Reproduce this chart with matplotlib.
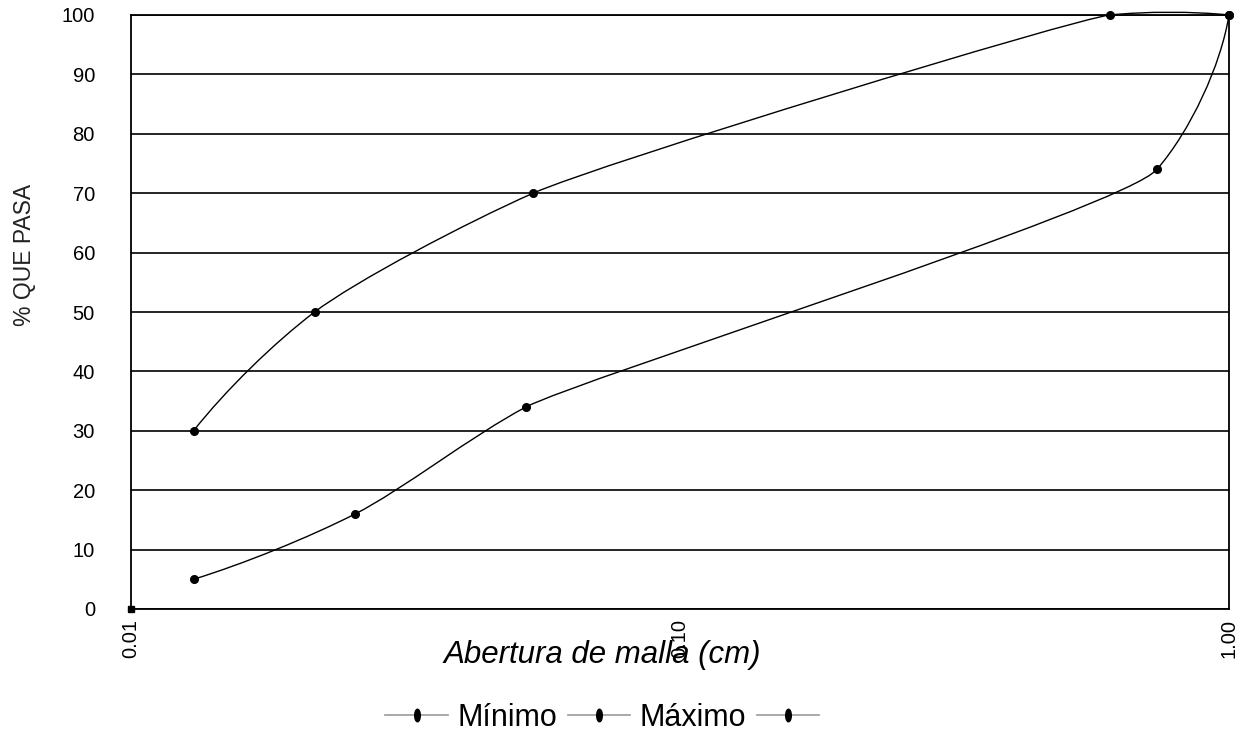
"""
Curva granulométrica: % que pasa vs abertura de malla (escala log).
Límites mínimo / máximo dibujados con suavizado tipo Excel.
"""

import numpy as np
import matplotlib
matplotlib.use("Agg")
import matplotlib.pyplot as plt
from matplotlib.path import Path
from matplotlib.patches import PathPatch
from matplotlib.lines import Line2D
from matplotlib.transforms import Affine2D

plt.rcParams["font.family"] = ["Liberation Sans", "DejaVu Sans"]

# datos
min_x = [0.013, 0.0216, 0.054, 0.607, 1.00]
min_y = [30, 50, 70, 100, 100]
max_x = [0.013, 0.0256, 0.0524, 0.739, 1.00]
max_y = [5, 16, 34, 74, 100]
extra_x = [0.01]
extra_y = [0]
labels = ["Mínimo", "Máximo", ""]
yticks = [0, 10, 20, 30, 40, 50, 60, 70, 80, 90, 100]
xticks = [0.01, 0.1, 1.0]
xticklabels = ["0.01", "0.10", "1.00"]

SX, SY = 549.0, 5.94     # px per decade / px per unit, smoothing done in screen space
TENSION = 0.3
WPOW = 0.4               # tangent leans toward the shorter neighbouring segment


def unit(d):
    return d / np.hypot(*d)


def smooth_path(xs, ys):
    """Smoothed line through the points: cubic Bezier, tangent handles bounded
    by the shorter neighbouring segment, end tangents reflected about the end chord."""
    p = np.column_stack([np.log10(xs) * SX, np.asarray(ys, float) * SY])
    n = len(p)
    seg = [p[i + 1] - p[i] for i in range(n - 1)]
    L = [np.hypot(*s) for s in seg]
    tan = [None] * n
    for i in range(1, n - 1):
        tan[i] = unit(unit(seg[i - 1]) * L[i] ** WPOW + unit(seg[i]) * L[i - 1] ** WPOW)
    c = unit(seg[0])
    tan[0] = 2 * np.dot(c, tan[1]) * c - tan[1] if n > 2 else c
    c = unit(seg[-1])
    tan[-1] = 2 * np.dot(c, tan[-2]) * c - tan[-2] if n > 2 else c

    def handle(i, j):
        # handle length at point i for segment j
        other = [k for k in (i - 1, i) if 0 <= k < n - 1 and k != j]
        ref = min([L[j]] + [L[k] for k in other])
        return ref * TENSION

    verts = [p[0]]
    codes = [Path.MOVETO]
    for i in range(n - 1):
        verts += [p[i] + tan[i] * handle(i, i),
                  p[i + 1] - tan[i + 1] * handle(i + 1, i),
                  p[i + 1]]
        codes += [Path.CURVE4] * 3
    v = np.array(verts)
    data = np.column_stack([10 ** (v[:, 0] / SX), v[:, 1] / SY])
    return Path(data, codes)


fig = plt.figure(figsize=(12.42, 7.38), dpi=100)
ax = fig.add_axes([131 / 1242, 1 - 609 / 738, (1229 - 131) / 1242, (609 - 15) / 738])
ax.set_xscale("log")
ax.set_xlim(0.01, 1.0)
ax.set_ylim(0, 100)

for xs, ys in [(min_x, min_y), (max_x, max_y)]:
    ax.add_patch(PathPatch(smooth_path(xs, ys), fill=False, ec="black", lw=1.0,
                           zorder=3, clip_on=False))
    ax.plot(xs, ys, ls="none", marker="o", ms=5.5, color="black", zorder=4, clip_on=False)
ax.plot(extra_x, extra_y, ls="none", marker="s", ms=5, color="black", zorder=4, clip_on=False)

ax.set_yticks(yticks)
ax.set_yticklabels([str(t) for t in yticks], fontsize=14.5)
ax.set_xticks(xticks)
ax.set_xticklabels(xticklabels, fontsize=14.5, rotation=90)
ax.xaxis.set_minor_locator(matplotlib.ticker.NullLocator())
ax.tick_params(axis="y", length=0, pad=26)
ax.tick_params(axis="x", length=0, pad=7)
ax.grid(axis="y", color="black", lw=1.2)
ax.set_axisbelow(True)
for s in ax.spines.values():
    s.set_color("black")
    s.set_linewidth(1.3)

fig.text(24 / 1242, 1 - 255 / 738, "% QUE PASA", rotation=90, fontsize=16.5,
         color="#222222", ha="center", va="center")
fig.text(602 / 1242, 1 - 663 / 738, "Abertura de malla (cm)", fontsize=22.5,
         style="italic", ha="center", va="baseline")

ell = Path(Affine2D().scale(0.45, 1.0).transform(Path.unit_circle().vertices),
           Path.unit_circle().codes)
handles = [Line2D([], [], color="#999999", lw=1.2, marker=ell, ms=9,
                  mfc="black", mec="black") for _ in labels]
fig.legend(handles, labels, loc="center", bbox_to_anchor=(607 / 1242, 1 - 718 / 738),
           ncol=3, frameon=False, fontsize=22, handlelength=2.05,
           handletextpad=0.3, columnspacing=0.35, borderaxespad=0)

fig.savefig("out.png", dpi=100)
